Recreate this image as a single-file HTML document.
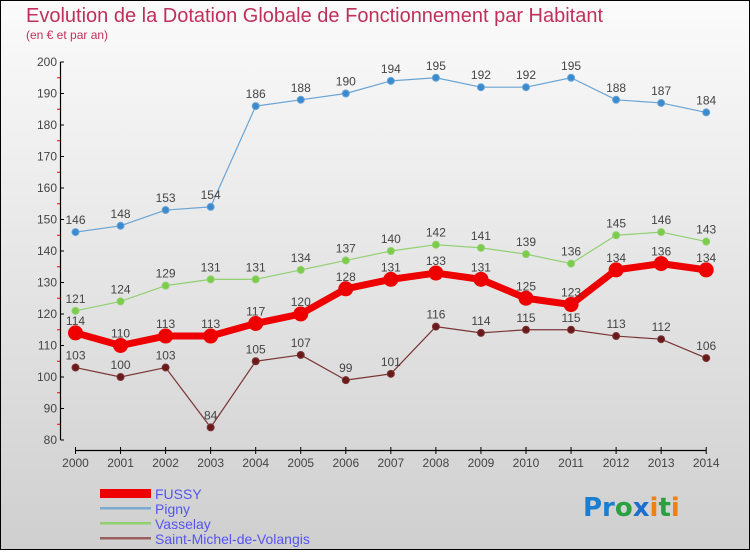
<!DOCTYPE html>
<html><head><meta charset="utf-8"><style>
html,body{margin:0;padding:0}
body{width:750px;height:550px;overflow:hidden;font-family:"Liberation Sans",sans-serif}
</style></head><body>
<svg id="chart" width="750" height="550" xmlns="http://www.w3.org/2000/svg">
<defs><linearGradient id="bg" x1="0" y1="0" x2="0" y2="1"><stop offset="0" stop-color="#fbfbfb"/><stop offset="1" stop-color="#cfcfcf"/></linearGradient></defs>
<rect x="0.5" y="0.5" width="749" height="549" fill="url(#bg)" stroke="#000"/>
<text x="26" y="22" font-size="20" fill="#c0305a">Evolution de la Dotation Globale de Fonctionnement par Habitant</text>
<text x="26" y="39" font-size="12" fill="#c0305a">(en € et par an)</text>
<g id="axes"></g>
<g id="series"></g>
<g id="legend">
<rect x="100" y="489" width="51" height="9" fill="#e00"/>
<text x="155" y="499" font-size="14" fill="#5555ee">FUSSY</text>
<rect x="100" y="507" width="51" height="2.5" fill="#7aaad0"/>
<text x="155" y="514" font-size="14" fill="#5555ee">Pigny</text>
<rect x="100" y="522" width="51" height="2.5" fill="#90d070"/>
<text x="155" y="529" font-size="14" fill="#5555ee">Vasselay</text>
<rect x="100" y="537" width="51" height="2.5" fill="#9a6060"/>
<text x="155" y="544" font-size="14" fill="#5555ee">Saint-Michel-de-Volangis</text>
</g>
<text x="583" y="516" font-size="26" font-weight="bold" font-family="'DejaVu Sans',sans-serif"><tspan fill="#1a7fd0">Pr</tspan><tspan fill="#2aa040">o</tspan><tspan fill="#1a6fd0">x</tspan><tspan fill="#f08010">i</tspan><tspan fill="#2aa040">t</tspan><tspan fill="#f08010">i</tspan></text>
</svg>
<script>
const years=[2000,2001,2002,2003,2004,2005,2006,2007,2008,2009,2010,2011,2012,2013,2014];
const yTicks=[80,90,100,110,120,130,140,150,160,170,180,190,200];
const fussy=[114,110,113,113,117,120,128,131,133,131,125,123,134,136,134];
const pigny=[146,148,153,154,186,188,190,194,195,192,192,195,188,187,184];
const vasselay=[121,124,129,131,131,134,137,140,142,141,139,136,145,146,143];
const stmichel=[103,100,103,84,105,107,99,101,116,114,115,115,113,112,106];
const NS="http://www.w3.org/2000/svg";
function X(i){return 75.5+i*45.05;}
function Y(v){return 440-(v-80)*3.15;}
function mk(t,a,p){const e=document.createElementNS(NS,t);for(const k in a)e.setAttribute(k,a[k]);p.appendChild(e);return e;}
const axes=document.getElementById('axes');
const yl=mk('line',{x1:60.5,y1:Y(200),x2:60.5,y2:Y(80),stroke:'#000','stroke-width':1.2},axes);


yTicks.forEach((v,k)=>{
 mk('line',{x1:60.5,y1:Y(v),x2:64,y2:Y(v),stroke:'#000'},axes);
 if(k<yTicks.length-1) mk('line',{x1:57,y1:Y(v+5),x2:60,y2:Y(v+5),stroke:'#e00'},axes);
 const t=mk('text',{x:57,y:Y(v)+4,'font-size':12,fill:'#444','text-anchor':'end'},axes);
 t.textContent=v;
 
 
});
const xl=mk('line',{x1:X(0),y1:450.5,x2:X(14),y2:450.5,stroke:'#000','stroke-width':1.2},axes);


years.forEach((y,i)=>{
 mk('line',{x1:X(i),y1:447,x2:X(i),y2:454,stroke:'#000'},axes);
 const t=mk('text',{x:X(i),y:467,'font-size':12,fill:'#444','text-anchor':'middle'},axes);
 t.textContent=y;
 
 
});
const sg=document.getElementById('series');
function draw(data,name,color,dot,lw,r){
 const g=mk('g',{},sg);
 
 
 const pl=mk('polyline',{points:data.map((v,i)=>X(i)+','+Y(v)).join(' '),fill:'none',stroke:color,'stroke-width':lw,'stroke-linejoin':'round'},g);
 
 
 data.forEach((v,i)=>{
  const c=mk('circle',{cx:X(i),cy:Y(v),r:r,fill:dot,stroke:color,'stroke-width':1},g);
  
  
  const t=mk('text',{x:X(i),y:Y(v)-8,'font-size':12,fill:'#444','text-anchor':'middle'},g);
  t.textContent=v;
  
  
 });
}
draw(stmichel,'saint-michel','#7a3535','#6a1a1a',1.2,3.5);
draw(vasselay,'vasselay','#90d070','#7acc4a',1.2,3.5);
draw(pigny,'pigny','#6aa4d4','#3a8ad0',1.2,3.5);
draw(fussy,'fussy','#ee0000','#ee0000',7,7);
</script>
</body></html>
